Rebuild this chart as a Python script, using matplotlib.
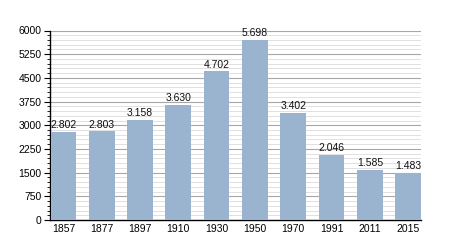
import matplotlib
matplotlib.use("Agg")
import matplotlib.pyplot as plt
from matplotlib.ticker import MultipleLocator

years = ["1857", "1877", "1897", "1910", "1930", "1950", "1970", "1991", "2011", "2015"]
population = [2802, 2803, 3158, 3630, 4702, 5698, 3402, 2046, 1585, 1483]
value_labels = ["2.802", "2.803", "3.158", "3.630", "4.702", "5.698", "3.402", "2.046", "1.585", "1.483"]

plt.rcParams['font.family'] = ['Liberation Sans', 'DejaVu Sans']

fig = plt.figure(figsize=(4.5, 2.5), dpi=100)
ax = fig.add_axes([0.111, 0.12, 0.825, 0.758])

x = list(range(len(years)))
ax.bar(x, population, width=0.67, color="#9ab4d0", zorder=3)
for xi, v, lab in zip(x, population, value_labels):
    ax.text(xi, v + 60, lab, ha="center", va="bottom", fontsize=7.5, color="#111111", zorder=4)

ax.set_ylim(0, 6000)
ax.set_xlim(-0.35, 9.34)
ax.yaxis.set_major_locator(MultipleLocator(750))
ax.yaxis.set_minor_locator(MultipleLocator(150))
ax.grid(axis="y", which="major", color="#a6a6a6", linewidth=0.8, zorder=0)
ax.grid(axis="y", which="minor", color="#dcdcdc", linewidth=0.6, zorder=0)
ax.set_xticks(x)
ax.set_xticklabels(years)
ax.tick_params(axis="x", length=0, labelsize=7.5, pad=3)
ax.tick_params(axis="y", which="major", length=4, width=0.8, labelsize=7.5, pad=2, direction="out")
ax.tick_params(axis="y", which="minor", length=2, width=0.6, direction="out")
for s in ["top", "right"]:
    ax.spines[s].set_visible(False)
ax.spines["left"].set_linewidth(1.0)
ax.spines["bottom"].set_linewidth(1.0)

fig.savefig("out.png", dpi=100)
